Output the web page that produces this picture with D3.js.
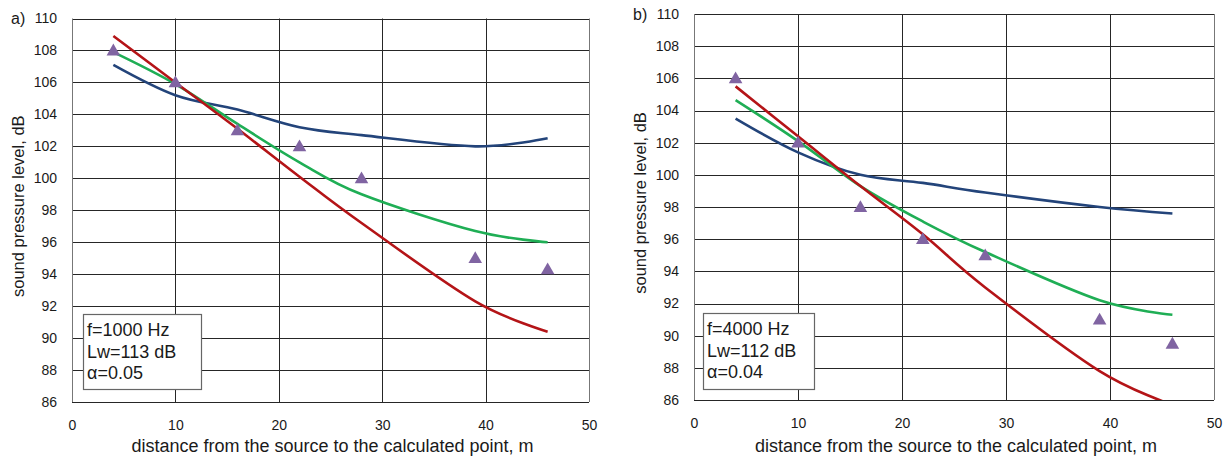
<!doctype html>
<html>
<head>
<meta charset="utf-8" />
<script src="https://d3js.org/d3.v7.min.js"></script>
<style>
  body { margin: 0; background: #fff; }
  text { font-family: Arial, "Liberation Sans", sans-serif; fill: #1a1a1a; }
</style>
</head>
<body>
<div id="chart"></div>
<script>

// distances where values were taken, m
var distances = [4, 10, 16, 22, 28, 39, 46];
var xTicks = [0, 10, 20, 30, 40, 50];
var yTicks = [86, 88, 90, 92, 94, 96, 98, 100, 102, 104, 106, 108, 110];

// panel a) f=1000 Hz
var measuredA = [108, 106, 103, 102, 100, 95, 94.3];
var blueA = [107.1, 105.2, 104.3, 103.2, 102.7, 102.0, 102.5];
var greenA = [107.9, 105.9, 103.4, 101.0, 99.0, 96.7, 96.0];
var redA = [108.9, 106.0, 103.1, 100.1, 97.2, 92.3, 90.4];
var noteA = ["f=1000 Hz", "Lw=113 dB", "\u03B1=0.05"];

// panel b) f=4000 Hz
var measuredB = [106, 102, 98, 96, 95, 91, 89.5];
var blueB = [103.5, 101.4, 100.0, 99.5, 98.9, 98.0, 97.6];
var greenB = [104.65, 102.1, 99.3, 97.1, 95.2, 92.2, 91.3];
var redB = [105.5, 102.4, 99.3, 96.3, 93.0, 87.8, 85.7];
var noteB = ["f=4000 Hz", "Lw=112 dB", "\u03B1=0.04"];

var W = 1225, H = 457;
var svg = d3.select("#chart").append("svg").attr("width", W).attr("height", H);

var panels = [
  {id: "a", tag: "a)", left: 72, top: 18.5, right: 589, bottom: 402,
   meas: measuredA, blue: blueA, green: greenA, red: redA, note: noteA,
   box: [83, 314, 118, 75]},
  {id: "b", tag: "b)", left: 694, top: 14, right: 1214, bottom: 400,
   meas: measuredB, blue: blueB, green: greenB, red: redB, note: noteB,
   box: [703, 313, 111, 76]}
];

panels.forEach(function(p) {
  var x = d3.scaleLinear().domain([0, 50]).range([p.left, p.right]);
  var y = d3.scaleLinear().domain([86, 110]).range([p.bottom, p.top]);
  var g = svg.append("g");

  svg.append("clipPath").attr("id", "clip" + p.id)
    .append("rect").attr("x", p.left).attr("y", p.top)
    .attr("width", p.right - p.left).attr("height", p.bottom - p.top);

  // grid
  g.selectAll(".hg").data(yTicks).enter().append("line")
    .attr("x1", p.left).attr("x2", p.right)
    .attr("y1", d => Math.round(y(d)) + 0.5).attr("y2", d => Math.round(y(d)) + 0.5)
    .attr("stroke", "#262626").attr("stroke-width", 1);
  g.selectAll(".vg").data(xTicks).enter().append("line")
    .attr("y1", p.top).attr("y2", p.bottom)
    .attr("x1", d => Math.round(x(d)) + 0.5).attr("x2", d => Math.round(x(d)) + 0.5)
    .attr("stroke", (d, i) => (i == 0 || i == xTicks.length - 1) ? "#777" : "#262626")
    .attr("stroke-width", 1);

  // axes labels via d3 axes, lines removed
  var yAxis = g.append("g").attr("transform", "translate(" + (p.left - 15) + ",0)")
    .call(d3.axisLeft(y).tickValues(yTicks).tickSize(0).tickPadding(0));
  yAxis.select(".domain").remove();
  yAxis.selectAll("text").attr("font-size", 14).attr("font-family", "Arial, 'Liberation Sans', sans-serif")
    .attr("fill", "#1a1a1a");

  var xAxis = g.append("g").attr("transform", "translate(0," + (p.bottom + 18) + ")")
    .call(d3.axisBottom(x).tickValues(xTicks).tickSize(0).tickPadding(0));
  xAxis.select(".domain").remove();
  xAxis.selectAll("text").attr("font-size", 14).attr("font-family", "Arial, 'Liberation Sans', sans-serif")
    .attr("fill", "#1a1a1a");

  // axis titles
  g.append("text").attr("x", (p.left + p.right) / 2 + 2).attr("y", 452)
    .attr("text-anchor", "middle").attr("font-size", 18)
    .text("distance from the source to the calculated point, m");
  g.append("text")
    .attr("transform", "translate(" + (p.left - 48) + "," + ((p.top + p.bottom) / 2 - 4) + ") rotate(-90)")
    .attr("text-anchor", "middle").attr("font-size", 16.5)
    .text("sound pressure level, dB");

  g.append("text").attr("x", p.left - 61).attr("y", p.top + 5.5)
    .attr("font-size", 16).text(p.tag);

  // note box
  g.append("rect").attr("x", p.box[0] + 0.5).attr("y", p.box[1] + 0.5)
    .attr("width", p.box[2]).attr("height", p.box[3])
    .attr("fill", "#fff").attr("stroke", "#666").attr("stroke-width", 1.2);
  g.selectAll(".note").data(p.note).enter().append("text")
    .attr("x", p.box[0] + 4).attr("y", (d, i) => p.box[1] + 22 + i * 21.5)
    .attr("font-size", 18).text(d => d);

  // curves
  var line = d3.line().x((d, i) => x(distances[i])).y(d => y(d))
    .curve(d3.curveCardinal.tension(0));
  var curves = g.append("g").attr("clip-path", "url(#clip" + p.id + ")");
  [[p.blue, "#23447a"], [p.green, "#1fae55"], [p.red, "#b41417"]].forEach(function(s) {
    curves.append("path").attr("d", line(s[0]))
      .attr("fill", "none").attr("stroke", s[1]).attr("stroke-width", 2.6);
  });

  // measured triangles
  g.selectAll(".tri").data(p.meas).enter().append("path")
    .attr("d", d3.symbol().type(d3.symbolTriangle).size(80))
    .attr("transform", (d, i) => "translate(" + x(distances[i]) + "," + (y(d) + 1) + ")")
    .attr("fill", "#8064a2");
});

</script>
</body>
</html>
